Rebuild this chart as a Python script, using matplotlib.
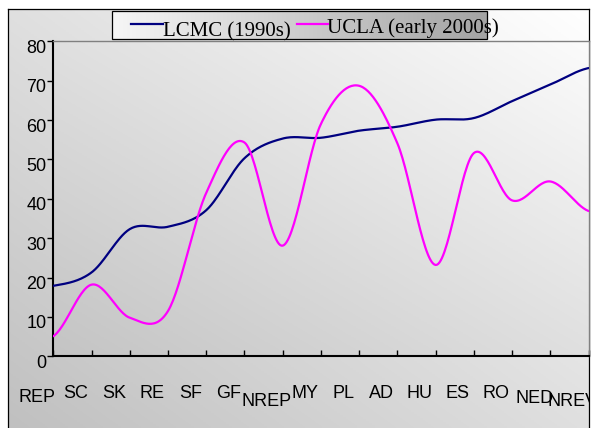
import numpy as np
import matplotlib
matplotlib.use("Agg")
import matplotlib.pyplot as plt
from matplotlib.colors import LinearSegmentedColormap
from matplotlib.patches import Rectangle
from matplotlib.transforms import ScaledTranslation, blended_transform_factory

plt.rcParams["font.family"] = ["Liberation Sans", "DejaVu Sans"]

# register categories and the two corpora
categories = ["REP", "SC", "SK", "RE", "SF", "GF", "NREP", "MY",
              "PL", "AD", "HU", "ES", "RO", "NED", "NREV"]
lcmc = [17.9, 21.3, 32.3, 32.9, 37.1, 50.3, 55.3, 55.5,
        57.3, 58.3, 60.1, 60.5, 64.8, 69.0, 73.2]
ucla = [5.1, 18.2, 9.8, 11.5, 41.5, 54.3, 28.1, 59.0,
        68.7, 54.1, 23.2, 51.6, 39.6, 44.4, 36.9]
series_names = ["LCMC (1990s)", "UCLA (early 2000s)"]
y_ticks = [0, 10, 20, 30, 40, 50, 60, 70, 80]

# how far each category label sits below the axis (px)
label_drop = [45.7, 41.2, 41.2, 41.2, 41.2, 41.2, 49.7, 41.2,
              41.2, 41.2, 41.2, 41.2, 41.2, 46.7, 50.2]

W, H = 593, 428
DPI = 100


def smooth(values, n=30):
    """Catmull-Rom curve through the points, like a spreadsheet 'smoothed line'."""
    p = np.asarray(values, dtype=float)
    k = len(p)
    m = np.empty(k)
    m[1:-1] = (p[2:] - p[:-2]) / 2
    m[0] = (p[1] - p[0]) / 2
    m[-1] = (p[-1] - p[-2]) / 2
    xs, ys = [], []
    t = np.linspace(0, 1, n, endpoint=False)
    h00 = 2 * t**3 - 3 * t**2 + 1
    h10 = t**3 - 2 * t**2 + t
    h01 = -2 * t**3 + 3 * t**2
    h11 = t**3 - t**2
    for i in range(k - 1):
        xs.append(i + t)
        ys.append(h00 * p[i] + h10 * m[i] + h01 * p[i + 1] + h11 * m[i + 1])
    xs.append([k - 1])
    ys.append([p[-1]])
    return np.concatenate(xs), np.concatenate(ys)


def diagonal(lo, hi):
    g = np.linspace(0, 1, 200)
    xx, yy = np.meshgrid(g, g)
    return (xx + yy) / 2, LinearSegmentedColormap.from_list("g", [lo, hi])


fig = plt.figure(figsize=(W / DPI, H / DPI), dpi=DPI)
fig.patch.set_facecolor("white")

# chart area background with its frame
bg = fig.add_axes([8 / W, 0, (588.5 - 8) / W, (H - 9) / H])
z, cm = diagonal("#c0c0c0", "#ffffff")
bg.imshow(z, cmap=cm, extent=(0, 1, 0, 1), origin="lower", aspect="auto")
bg.set_xlim(0, 1)
bg.set_ylim(0, 1)
bg.set_xticks([])
bg.set_yticks([])
for side in ("left", "top", "right"):
    bg.spines[side].set_color("black")
    bg.spines[side].set_linewidth(0.9)
bg.spines["bottom"].set_visible(False)

# plot area
left, right, top, bottom = 53.3, 588.5, 41.3, 356.3
ax = fig.add_axes([left / W, (H - bottom) / H, (right - left) / W, (bottom - top) / H])
z, cm = diagonal("#c4c4c4", "#fbfbfb")
ax.imshow(z, cmap=cm, extent=(0, len(categories) - 1, 0, 80),
          origin="lower", aspect="auto", zorder=0)

x, y = smooth(lcmc)
ax.plot(x, y, color="#000080", lw=1.6, zorder=3, solid_capstyle="round")
x, y = smooth(ucla)
ax.plot(x, y, color="#ff00ff", lw=1.6, zorder=3, solid_capstyle="round")

ax.set_xlim(0, len(categories) - 1)
ax.set_ylim(0, 80)
ax.set_xticks(range(len(categories)))
ax.set_yticks(y_ticks)
ax.tick_params(axis="x", direction="in", length=4, width=1, labelbottom=False)
ax.tick_params(axis="y", direction="out", length=4, width=1, labelsize=13, pad=1)
for lab in ax.get_yticklabels():
    lab.set_transform(lab.get_transform() + ScaledTranslation(0, -5 / DPI, fig.dpi_scale_trans))
ax.spines["left"].set_linewidth(1.5)
ax.spines["bottom"].set_linewidth(1.5)
for side in ("top", "right"):
    ax.spines[side].set_color("#808080")
    ax.spines[side].set_linewidth(1)

# category labels, clipped to the chart frame
xy = blended_transform_factory(ax.transData, ax.transAxes)
for i, (name, drop) in enumerate(zip(categories, label_drop)):
    tr = xy + ScaledTranslation(-16 / DPI, -drop / DPI, fig.dpi_scale_trans)
    bg.text(i, 0, name, transform=tr, ha="center", va="baseline",
            fontsize=13, clip_on=True)

# legend box along the top
lg = fig.add_axes([0, 0, 1, 1], zorder=5)
lg.set_xlim(0, W)
lg.set_ylim(H, 0)
lg.axis("off")
lg.patch.set_alpha(0)
g = np.linspace(0, 1, 200)[None, :]
lg.imshow(g, cmap=LinearSegmentedColormap.from_list("lg", ["#f6f6f6", "#a4a4a4"]),
          extent=(112, 487, 39, 11), aspect="auto")
lg.add_patch(Rectangle((112, 11), 375, 28, fill=False, edgecolor="black", lw=0.9))
lg.plot([131, 163], [24, 24], color="#000080", lw=1.6)
lg.text(163, 36, series_names[0], family="Liberation Serif", fontsize=15, va="baseline")
lg.plot([297, 328], [24, 24], color="#ff00ff", lw=1.6)
lg.text(327, 33, series_names[1], family="Liberation Serif", fontsize=15, va="baseline")
lg.set_xlim(0, W)
lg.set_ylim(H, 0)

fig.savefig("out.png", dpi=DPI)
